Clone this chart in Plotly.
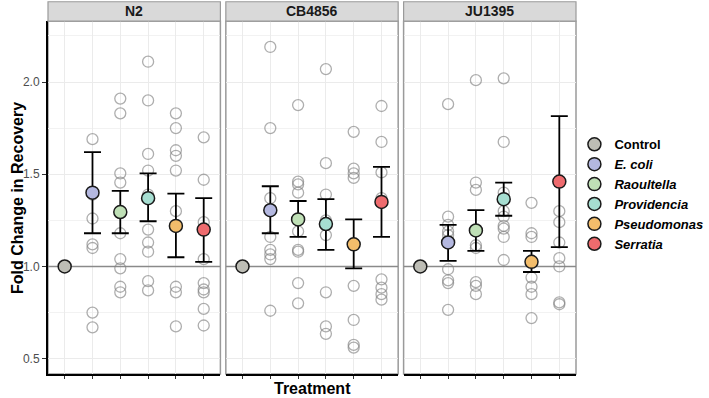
import plotly.graph_objects as go

strains = ["N2", "CB4856", "JU1395"]
treatments = ["Control", "E. coli", "Raoultella", "Providencia", "Pseudomonas", "Serratia"]
colors = ["#BDBDB5", "#B4B8E0", "#BFE0B6", "#A6DED1", "#F3BD6B", "#EE6B6E"]

# mean fold change per strain (Control, E. coli, Raoultella, Providencia, Pseudomonas, Serratia)
means = {
    "N2":     [1.0, 1.40, 1.295, 1.37, 1.22, 1.20],
    "CB4856": [1.0, 1.305, 1.255, 1.23, 1.12, 1.35],
    "JU1395": [1.0, 1.13, 1.195, 1.365, 1.025, 1.46],
}
err_upper = {
    "N2":     [None, 1.62, 1.41, 1.505, 1.395, 1.37],
    "CB4856": [None, 1.435, 1.355, 1.365, 1.255, 1.54],
    "JU1395": [None, 1.225, 1.305, 1.455, 1.085, 1.815],
}
err_lower = {
    "N2":     [None, 1.18, 1.18, 1.245, 1.05, 1.025],
    "CB4856": [None, 1.18, 1.16, 1.09, 0.99, 1.16],
    "JU1395": [None, 1.03, 1.085, 1.275, 0.97, 1.105],
}

# individual replicate values
raw_N2 = {
    "E. coli": [1.69, 1.39, 1.26, 1.12, 1.10, 0.75, 0.67],
    "Raoultella": [1.91, 1.83, 1.505, 1.455, 1.18, 1.04, 0.99, 0.89, 0.86],
    "Providencia": [2.11, 1.90, 1.61, 1.52, 1.39, 1.20, 1.13, 1.08, 0.92, 0.87],
    "Pseudomonas": [1.83, 1.75, 1.63, 1.60, 1.52, 1.30, 0.89, 0.86, 0.675],
    "Serratia": [1.70, 1.47, 1.24, 1.04, 0.91, 0.875, 0.86, 0.77, 0.68],
}
raw_CB4856 = {
    "E. coli": [2.19, 1.75, 1.37, 1.16, 1.09, 1.065, 1.04, 0.76],
    "Raoultella": [1.875, 1.46, 1.445, 1.40, 1.19, 1.09, 1.08, 0.91, 0.80],
    "Providencia": [2.07, 1.56, 1.39, 1.25, 1.17, 0.86, 0.675, 0.635],
    "Pseudomonas": [1.73, 1.53, 1.505, 1.48, 0.895, 0.71, 0.575, 0.56],
    "Serratia": [1.87, 1.675, 1.51, 1.37, 0.93, 0.885, 0.85, 0.82],
}
raw_JU1395 = {
    "E. coli": [1.88, 1.27, 1.225, 1.19, 1.17, 0.985, 0.925, 0.91, 0.765],
    "Raoultella": [2.01, 1.455, 1.415, 1.115, 1.10, 0.915, 0.895, 0.85],
    "Providencia": [2.02, 1.675, 1.40, 1.30, 1.27, 1.22, 1.205, 1.16, 1.035],
    "Pseudomonas": [1.345, 1.18, 1.16, 0.94, 0.89, 0.85, 0.72],
    "Serratia": [1.30, 1.24, 1.13, 1.045, 1.0, 0.805, 0.795],
}
raw = {"N2": raw_N2, "CB4856": raw_CB4856, "JU1395": raw_JU1395}

reference_level = 1.0
y_ticks = [0.5, 1.0, 1.5, 2.0]
y_range = [0.417, 2.33]
x_range = [0.4, 6.6]

FONT = "Liberation Sans, Arial, Helvetica, sans-serif"
fig = go.Figure()

domains = [[0.0, 0.3265], [0.3368, 0.6632], [0.6735, 1.0]]
ydom = [0.0, 0.946]

for p, s in enumerate(strains):
    xa = "x" if p == 0 else f"x{p+1}"
    ya = "y" if p == 0 else f"y{p+1}"
    # reference line at 1.0 (drawn first, behind points)
    fig.add_trace(go.Scatter(
        x=x_range, y=[reference_level, reference_level], mode="lines", xaxis=xa, yaxis=ya,
        line=dict(color="#8A8A8A", width=1.5), showlegend=False, hoverinfo="skip"))
    # raw points
    for i, t in enumerate(treatments):
        if t not in raw[s]:
            continue
        vals = raw[s][t]
        fig.add_trace(go.Scatter(
            x=[i + 1] * len(vals), y=vals, mode="markers", xaxis=xa, yaxis=ya,
            marker=dict(symbol="circle-open", size=11, color="rgba(130,130,130,0.65)",
                        line=dict(width=1.3)),
            showlegend=False, hoverinfo="y"))
    # means with error bars
    for i, t in enumerate(treatments):
        m = means[s][i]
        up = err_upper[s][i]
        lo = err_lower[s][i]
        ey = None
        if up is not None:
            ey = dict(type="data", symmetric=False, array=[up - m], arrayminus=[m - lo],
                      color="black", thickness=1.8, width=8.5)
        fig.add_trace(go.Scatter(
            x=[i + 1], y=[m], mode="markers", xaxis=xa, yaxis=ya,
            error_y=ey,
            marker=dict(size=13, color=colors[i], line=dict(color="#1a1a1a", width=1.5)),
            showlegend=False, hoverinfo="y"))

# legend entries
legend_names = ["<b>Control</b>", "<b><i>E. coli</i></b>", "<b><i>Raoultella</i></b>",
                "<b><i>Providencia</i></b>", "<b><i>Pseudomonas</i></b>", "<b><i>Serratia</i></b>"]
for i, t in enumerate(treatments):
    fig.add_trace(go.Scatter(
        x=[None], y=[None], mode="markers", name=legend_names[i],
        marker=dict(size=13, color=colors[i], line=dict(color="#1a1a1a", width=1.5)),
        showlegend=True))

layout = dict(
    width=709, height=398,
    margin=dict(l=48, r=128, t=1, b=24),
    paper_bgcolor="white", plot_bgcolor="white",
    font=dict(family=FONT, color="black"),
    showlegend=True,
    legend=dict(x=0.997, y=0.656, xanchor="left", yanchor="top",
                font=dict(size=13, family=FONT, color="black"),
                bgcolor="rgba(0,0,0,0)", itemwidth=30),
)

shapes = []
annotations = []
for p, s in enumerate(strains):
    xk = "xaxis" if p == 0 else f"xaxis{p+1}"
    yk = "yaxis" if p == 0 else f"yaxis{p+1}"
    xa = "x" if p == 0 else f"x{p+1}"
    ya = "y" if p == 0 else f"y{p+1}"
    layout[xk] = dict(
        domain=domains[p], range=x_range, anchor=ya,
        tickmode="array", tickvals=list(range(1, 7)), ticktext=[""] * 6,
        ticks="outside", ticklen=3, tickcolor="#333333", tickwidth=1,
        showgrid=True, gridcolor="#EBEBEB", gridwidth=1,
        showline=True, linecolor="black", linewidth=2,
        zeroline=False, fixedrange=True, automargin=False,
    )
    layout[yk] = dict(
        domain=ydom, range=y_range, anchor=xa,
        tickmode="array", tickvals=y_ticks, ticktext=[f"{v:.1f}" for v in y_ticks],
        showticklabels=(p == 0),
        ticks="outside" if p == 0 else "", ticklen=4, tickcolor="#333333",
        tickfont=dict(size=12, color="#4D4D4D", family=FONT),
        showgrid=True, gridcolor="#EBEBEB", gridwidth=1,
        minor=dict(tickvals=[0.75, 1.25, 1.75, 2.25], showgrid=True,
                   gridcolor="#F2F2F2", gridwidth=1, ticks=""),
        showline=(p == 0), linecolor="black", linewidth=2,
        zeroline=False, fixedrange=True, automargin=False,
    )
    # panel border
    shapes.append(dict(type="rect", xref=f"{xa} domain", yref=f"{ya} domain", x0=0, x1=1, y0=0, y1=1,
                       line=dict(color="#9A9A9A", width=1.5), fillcolor="rgba(0,0,0,0)", layer="below"))
    # strip
    shapes.append(dict(type="rect", xref=f"{xa} domain", yref="paper", x0=0, x1=1, y0=ydom[1], y1=0.998,
                       line=dict(color="#9A9A9A", width=1.2), fillcolor="#D9D9D9", layer="above"))
    annotations.append(dict(text=f"<b>{s}</b>", xref=f"{xa} domain", yref="paper",
                            x=0.5, y=(ydom[1] + 0.998) / 2, showarrow=False,
                            xanchor="center", yanchor="middle",
                            font=dict(size=14, color="#1a1a1a", family=FONT)))

annotations.append(dict(text="<b>Fold Change in Recovery</b>", xref="paper", yref="paper",
                        x=-0.058, y=ydom[1] / 2, textangle=-90, xanchor="center", yanchor="middle",
                        showarrow=False, font=dict(size=16, color="black", family=FONT)))
annotations.append(dict(text="<b>Treatment</b>", xref="paper", yref="paper", x=0.5, y=-0.038,
                        xanchor="center", yanchor="middle", showarrow=False,
                        font=dict(size=16, color="black", family=FONT)))
layout["shapes"] = shapes
layout["annotations"] = annotations

fig.update_layout(**layout)
fig.write_html("out.html", config={"displayModeBar": False},
               post_script="document.body.style.margin='0';document.body.style.padding='0';")
